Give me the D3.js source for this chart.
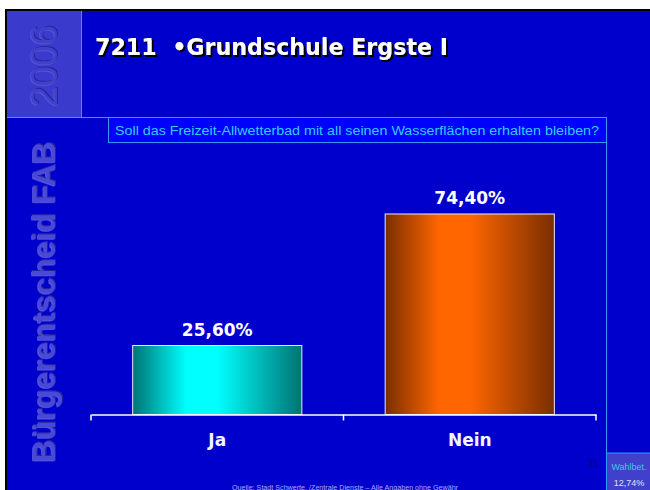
<!DOCTYPE html>
<html>
<head>
<meta charset="utf-8">
<script src="https://cdn.jsdelivr.net/npm/d3@7"></script>
<style>
  body { margin: 0; background: #fff; }
  svg { display: block; }
</style>
</head>
<body>
<script>
// chart data
var categories = ["Ja", "Nein"];
var values = [25.60, 74.40];
var valueLabels = ["25,60%", "74,40%"];
var title = "7211  \u2022Grundschule Ergste I";
var question = "Soll das Freizeit-Allwetterbad mit all seinen Wasserfl\u00e4chen erhalten bleiben?";
var sideText = "B\u00fcrgerentscheid FAB";
var yearText = "2006";
var turnoutLabel = "Wahlbet.";
var turnoutValue = "12,74%";
var pageNo = "31";
var source = "Quelle: Stadt Schwerte, /Zentrale Dienste \u2013 Alle Angaben ohne Gew\u00e4hr";

var w = 650, h = 490;
var bg = "#0000cc", line = "#3399ff";

var svg = d3.select("body").append("svg")
    .attr("width", w)
    .attr("height", h);

var defs = svg.append("defs");

// slide frame
svg.append("rect").attr("x", 5).attr("y", 9).attr("width", w - 5).attr("height", h - 9).attr("fill", "#000");
svg.append("rect").attr("x", 7).attr("y", 11).attr("width", w - 7).attr("height", h - 11).attr("fill", bg);

// top-left year panel
svg.append("rect").attr("x", 7).attr("y", 11).attr("width", 74).attr("height", 106).attr("fill", "#3a3acc");
svg.append("line").attr("x1", 81.5).attr("x2", 81.5).attr("y1", 11).attr("y2", 117).attr("stroke", line);
svg.append("line").attr("x1", 7).attr("x2", 606).attr("y1", 117.5).attr("y2", 117.5).attr("stroke", line);
svg.append("line").attr("x1", 606.5).attr("x2", 606.5).attr("y1", 117).attr("y2", h).attr("stroke", line);

// embossed vertical text (filter, so it stays one text)
function embossFilter(id, dark, light) {
  var f = defs.append("filter").attr("id", id).attr("x", "-10%").attr("y", "-10%").attr("width", "120%").attr("height", "120%");
  f.append("feDropShadow").attr("dx", 1).attr("dy", 1).attr("stdDeviation", 0.3).attr("flood-color", dark).attr("result", "a");
  f.append("feDropShadow").attr("in", "a").attr("dx", -0.7).attr("dy", -0.7).attr("stdDeviation", 0.3).attr("flood-color", light);
}
embossFilter("embYear", "#28289e", "#5a5ad8");
embossFilter("embSide", "#20209c", "#6a6ae6");

function vtext(txt, cx, cy, size, weight, fill, len, filt) {
  svg.append("text")
    .attr("transform", "translate(" + cx + "," + cy + ") rotate(-90)")
    .attr("text-anchor", "middle")
    .attr("dominant-baseline", "central")
    .attr("font-family", "Liberation Sans, Arial, sans-serif")
    .attr("font-weight", weight)
    .attr("font-size", size)
    .attr("textLength", len)
    .attr("lengthAdjust", "spacingAndGlyphs")
    .attr("fill", fill)
    .attr("filter", "url(#" + filt + ")")
    .text(txt);
}
vtext(yearText, 44, 66, 37, "normal", "#4040cc", 82, "embYear");
vtext(sideText, 44, 302, 31, "bold", "#4848d6", 321, "embSide");

// title with shadow
var sh = defs.append("filter").attr("id", "shadow").attr("x", "-5%").attr("y", "-20%").attr("width", "110%").attr("height", "140%");
sh.append("feDropShadow").attr("dx", 2).attr("dy", 2).attr("stdDeviation", 0.4).attr("flood-color", "#000").attr("flood-opacity", 1);
svg.append("text")
  .attr("x", 95).attr("y", 55)
  .attr("font-family", "DejaVu Sans, sans-serif")
  .attr("font-weight", "bold")
  .attr("font-size", 23)
  .attr("textLength", 353)
  .attr("lengthAdjust", "spacingAndGlyphs")
  .style("white-space", "pre")
  .attr("fill", "#fff")
  .attr("filter", "url(#shadow)")
  .text(title);

// question box
svg.append("rect").attr("x", 108.5).attr("y", 117.5).attr("width", 498).attr("height", 25)
  .attr("fill", "#0000ff").attr("stroke", line);
svg.append("text")
  .attr("x", 357).attr("y", 135)
  .attr("text-anchor", "middle")
  .attr("font-family", "Liberation Sans, Arial, sans-serif")
  .attr("font-size", 12.5)
  .attr("textLength", 484)
  .attr("lengthAdjust", "spacingAndGlyphs")
  .attr("fill", "#33ccff")
  .text(question);

// gradients
var gradColors = [["#007373", "#00ffff"], ["#7a2e00", "#ff6600"]];
gradColors.forEach(function(c, i) {
  var g = defs.append("linearGradient").attr("id", "grad" + i)
    .attr("x1", "0%").attr("x2", "100%").attr("y1", "0%").attr("y2", "0%");
  g.append("stop").attr("offset", "0%").attr("stop-color", c[0]);
  g.append("stop").attr("offset", "32%").attr("stop-color", c[1]);
  g.append("stop").attr("offset", "50%").attr("stop-color", c[1]);
  g.append("stop").attr("offset", "100%").attr("stop-color", c[0]);
});

// scales
var x = d3.scaleBand()
    .domain(categories)
    .range([91, 596])
    .paddingInner(0.33)
    .paddingOuter(0.165);

var y = d3.scaleLinear()
    .domain([0, 100])
    .range([414.5, 145]);

// bars
svg.selectAll("rect.bar")
    .data(values)
    .enter()
    .append("rect")
    .attr("class", "bar")
    .attr("x", function(d, i) { return x(categories[i]); })
    .attr("y", function(d) { return y(d); })
    .attr("width", x.bandwidth())
    .attr("height", function(d) { return y(0) - y(d); })
    .attr("fill", function(d, i) { return "url(#grad" + i + ")"; })
    .attr("stroke", "#e8e8ff")
    .attr("stroke-width", 1);

// value labels
svg.selectAll("text.val")
    .data(values)
    .enter()
    .append("text")
    .attr("class", "val")
    .attr("x", function(d, i) { return x(categories[i]) + x.bandwidth() / 2; })
    .attr("y", function(d) { return y(d) - 10; })
    .attr("text-anchor", "middle")
    .attr("font-family", "DejaVu Sans, sans-serif")
    .attr("font-weight", "bold")
    .attr("font-size", 17)
    .attr("fill", "#fff")
    .text(function(d, i) { return valueLabels[i]; });

// x axis
var axis = svg.append("g")
    .attr("transform", "translate(0," + y(0) + ")")
    .call(d3.axisBottom(x).tickSize(0).tickSizeOuter(0).tickPadding(19));
axis.select(".domain").attr("stroke", "#fff").attr("stroke-width", 1.5);
axis.selectAll("text")
    .attr("font-family", "DejaVu Sans, sans-serif")
    .attr("font-weight", "bold")
    .attr("font-size", 17)
    .attr("fill", "#f4f4ff");

// ticks at category boundaries
var bounds = [x.range()[0]].concat(categories.map(function(c) { return x(c) + x.bandwidth() + x.step() * x.paddingInner() / 2; }));
bounds[bounds.length - 1] = x.range()[1];
svg.selectAll("line.tick")
    .data(bounds)
    .enter()
    .append("line")
    .attr("x1", function(d) { return d; })
    .attr("x2", function(d) { return d; })
    .attr("y1", y(0))
    .attr("y2", y(0) + 6)
    .attr("stroke", "#fff")
    .attr("stroke-width", 1.5);

// turnout box
svg.append("rect").attr("x", 607).attr("y", 453).attr("width", 43).attr("height", 37).attr("fill", "#4040cc");
svg.append("line").attr("x1", 606).attr("x2", w).attr("y1", 453).attr("y2", 453).attr("stroke", line);
svg.append("text").attr("x", 629).attr("y", 470).attr("text-anchor", "middle")
  .attr("font-family", "Liberation Sans, Arial, sans-serif").attr("font-size", 9)
  .attr("fill", "#33ccdd").text(turnoutLabel);
svg.append("text").attr("x", 629).attr("y", 486).attr("text-anchor", "middle")
  .attr("font-family", "Liberation Sans, Arial, sans-serif").attr("font-size", 9)
  .attr("fill", "#e0e0ff").text(turnoutValue);

// page number
svg.append("text").attr("x", 593).attr("y", 467).attr("text-anchor", "middle")
  .attr("font-family", "Liberation Sans, Arial, sans-serif").attr("font-size", 10).attr("font-weight", "bold")
  .attr("fill", "#0000a0").text(pageNo);

// source line
svg.append("text").attr("x", 345).attr("y", 490).attr("text-anchor", "middle")
  .attr("font-family", "Liberation Sans, Arial, sans-serif").attr("font-size", 7)
  .attr("textLength", 226).attr("lengthAdjust", "spacingAndGlyphs")
  .attr("fill", "#aaaaff").text(source);
</script>
</body>
</html>
